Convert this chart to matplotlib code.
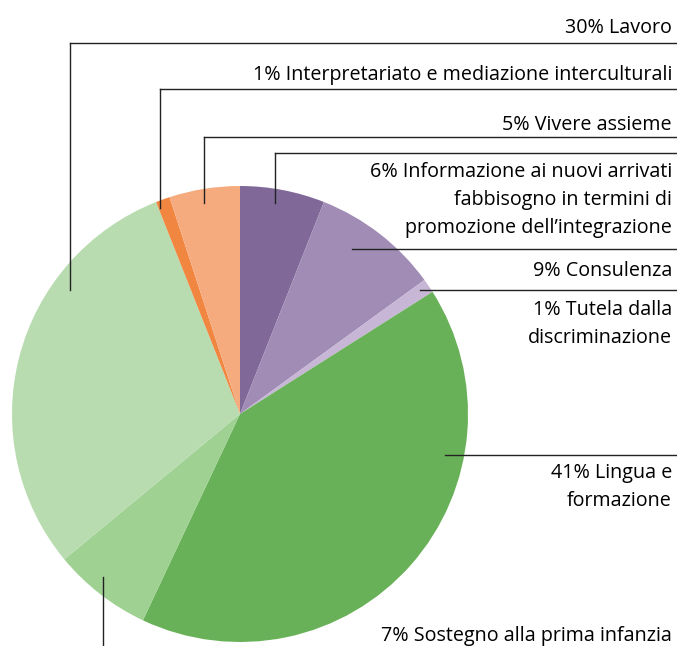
import matplotlib
matplotlib.use('Agg')
from matplotlib import pyplot as plt

# dati (percentuali, in senso orario dall'alto)
categorie = ['Informazione ai nuovi arrivati\nfabbisogno in termini di\npromozione dell\u2019integrazione',
             'Consulenza', 'Tutela dalla\ndiscriminazione', 'Lingua e\nformazione',
             'Sostegno alla prima infanzia', 'Lavoro',
             'Interpretariato e mediazione interculturali', 'Vivere assieme']
valori = [6, 9, 1, 41, 7, 30, 1, 5]
colori = ['#806899', '#a08cb5', '#c7b6d6', '#69b158', '#9fd193', '#b8dcb0', '#f08640', '#f5ab7e']

W, H = 677, 646
plt.rcParams['font.family'] = ['Open Sans', 'DejaVu Sans']

fig = plt.figure(figsize=(W / 100, H / 100), dpi=100)
ax = fig.add_axes([0, 0, 1, 1])

cx, cy, R = 240, H - 414, 228
ax.pie(valori, colors=colori, startangle=90, counterclock=False,
       center=(cx, cy), radius=R, wedgeprops=dict(linewidth=0))

# posizioni delle etichette (pixel, y dall'alto)
line_kw = dict(color='#222222', lw=1)
fs = 14.2
ls = 1.56
xr = 672

def hline(y, x0):
    ax.plot([x0, W], [H - y, H - y], **line_kw)

def etichetta(i, y):
    ax.text(xr, H - y - 3, '%d%% %s' % (valori[i], categorie[i]), ha='right', va='center',
            fontsize=fs, linespacing=ls, multialignment='right')

# 6%
ax.plot([275, 275], [H - 203, H - 153], **line_kw)
hline(153, 275)
etichetta(0, 197)
# 9%
hline(249, 352)
etichetta(1, 268)
# 1% tutela
hline(290, 420)
etichetta(2, 321)
# 41%
hline(455, 445)
etichetta(3, 484)
# 7%
ax.plot([103, 103], [H - 577, 0], **line_kw)
etichetta(4, 633)
# 30%
ax.plot([70, 70], [H - 290, H - 43], **line_kw)
hline(43, 70)
etichetta(5, 25)
# 1% interpretariato
ax.plot([160, 160], [H - 208, H - 89], **line_kw)
hline(89, 160)
etichetta(6, 72)
# 5%
ax.plot([204, 204], [H - 203, H - 137], **line_kw)
hline(137, 204)
etichetta(7, 122)

ax.set_xlim(0, W)
ax.set_ylim(0, H)
ax.set_aspect('equal')
ax.axis('off')

fig.savefig('out.png', dpi=100)
